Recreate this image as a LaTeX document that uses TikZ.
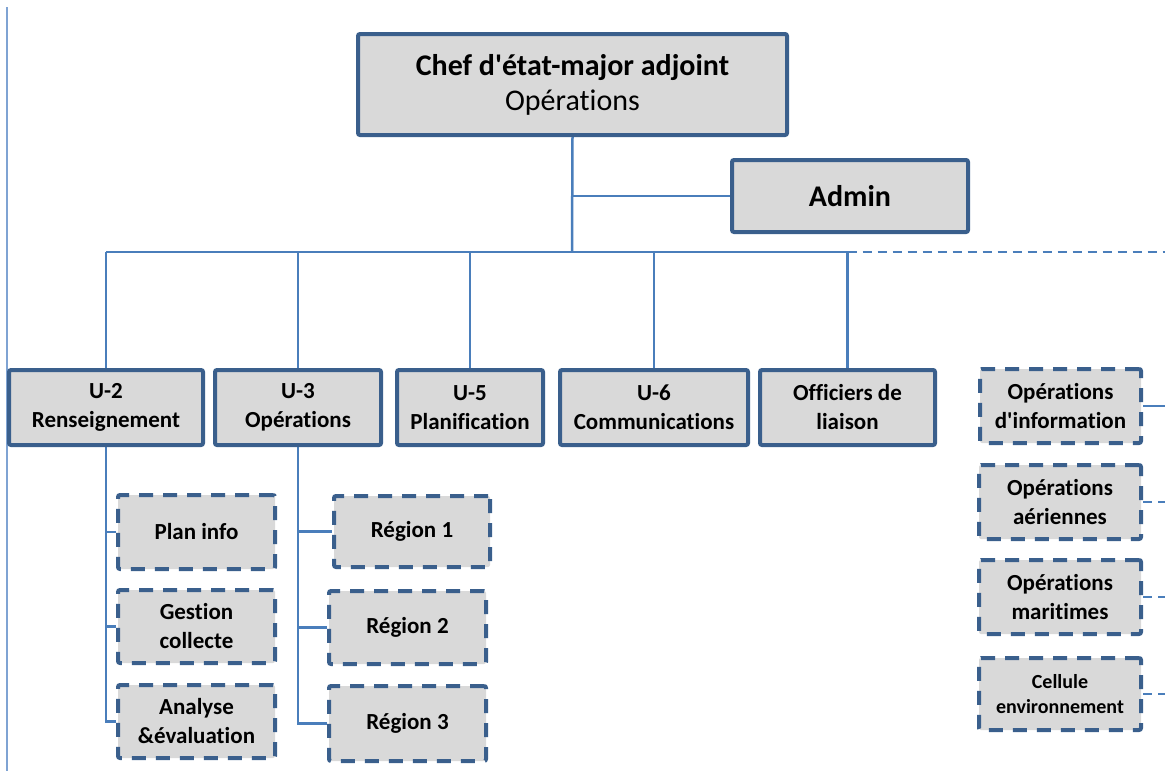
\documentclass[tikz,border=0pt]{standalone}
\usepackage{fontspec}
\setmainfont{Carlito}[Ligatures={TeX,NoCommon}]
\usetikzlibrary{backgrounds}
\definecolor{boxline}{HTML}{3A5F8C}
\definecolor{boxfill}{HTML}{D9D9D9}
\definecolor{linkblue}{HTML}{4A7EBB}
\definecolor{edgeblue}{HTML}{7FA3D3}
\newcommand\sq{\textquotesingle}
\begin{document}
\begin{tikzpicture}[x=1pt,y=-1pt,
  box/.style={draw=boxline, fill=boxfill, line width=4pt, rounded corners=2pt,
    inner sep=0pt, align=center, text=black,
    font=\bfseries\fontsize{23}{29}\selectfont},
  subbox/.style={box, dash pattern=on 14pt off 10pt},
  link/.style={draw=linkblue, line width=2.5pt},
  dlink/.style={link, dash pattern=on 9pt off 6pt}]
\useasboundingbox (0,0) rectangle (1165,771);

% head of the branch
\node[box, minimum width=429pt, minimum height=101pt,
  font=\bfseries\fontsize{30}{36}\selectfont] (chef) at (572.5,84.5)
  {Chef d\sq état-major adjoint\\[-1pt]{\mdseries Opérations}};
\node[box, minimum width=236pt, minimum height=72pt, font=\bfseries\fontsize{30}{36}\selectfont]
  (admin) at (850,196) {Admin};

% staff sections
\node[box, minimum width=194pt, minimum height=75pt] (u2) at (106,407.5) {U-2\\Renseignement};
\node[box, minimum width=166pt, minimum height=75pt] (u3) at (298,407.5) {U-3\\Opérations};
\node[box, minimum width=146pt, minimum height=75pt] (u5) at (470,407.5) {U-5\\Planification};
\node[box, minimum width=188pt, minimum height=75pt] (u6) at (654,407.5) {U-6\\Communications};
\node[box, minimum width=175pt, minimum height=75pt] (off) at (847.5,407.5) {Officiers de\\liaison};

% cells under U-2
\node[subbox, minimum width=157pt, minimum height=74pt] (plan) at (196.5,532) {Plan info};
\node[subbox, minimum width=157pt, minimum height=73pt] (gest) at (196.5,626.5) {Gestion\\collecte};
\node[subbox, minimum width=157pt, minimum height=73pt] (anal) at (196.5,721.5) {Analyse\\\&évaluation};

% cells under U-3
\node[subbox, minimum width=156pt, minimum height=71pt] (r1) at (412,531.5) {Région 1};
\node[subbox, minimum width=157pt, minimum height=73pt] (r2) at (407.5,627.5) {Région 2};
\node[subbox, minimum width=157pt, minimum height=75pt] (r3) at (407.5,723.5) {Région 3};

% cells on the right
\node[subbox, minimum width=161pt, minimum height=74pt] (opinfo) at (1060.5,406) {Opérations\\d\sq information};
\node[subbox, minimum width=162pt, minimum height=74pt] (aer) at (1060,502) {Opérations\\aériennes};
\node[subbox, minimum width=162pt, minimum height=74pt] (mar) at (1060,597) {Opérations\\maritimes};
\node[subbox, minimum width=162pt, minimum height=72pt, font=\bfseries\fontsize{20}{25}\selectfont]
  (cell) at (1060,694) {Cellule\\environnement};

\coordinate (bus) at (572,252);
\coordinate (rim) at (1165,252);
\coordinate (top) at (7,7);
\coordinate (bottom) at (7,771);

\begin{scope}[on background layer]
  \draw[edgeblue, line width=2pt] (top) -- (bottom);
  % trunk and Admin branch
  \draw[link] (chef.south) -- (bus);
  \draw[link] (chef.south |- admin.west) -- (admin.west);
  % horizontal bus
  \draw[link] (u2.north |- bus) -- (off.north |- bus);
  \draw[dlink] (off.north |- bus) -- (rim);
  \foreach \n in {u2,u3,u5,u6,off}
    \draw[link] (\n.north |- bus) -- (\n.north);
  % U-2 cells
  \draw[link] (u2.south) |- (anal.west);
  \draw[link] (u2.south |- plan.west) -- (plan.west);
  \draw[link] (u2.south |- gest.west) -- (gest.west);
  % U-3 cells
  \draw[link] (u3.south) |- (r3.west);
  \draw[link] (u3.south |- r1.west) -- (r1.west);
  \draw[link] (u3.south |- r2.west) -- (r2.west);
  % right-hand cells
  \draw[link] (opinfo.east) -- (opinfo.east -| rim);
  \foreach \n in {aer,mar,cell}
    \draw[dlink] (\n.east) -- (\n.east -| rim);
\end{scope}
\end{tikzpicture}
\end{document}
